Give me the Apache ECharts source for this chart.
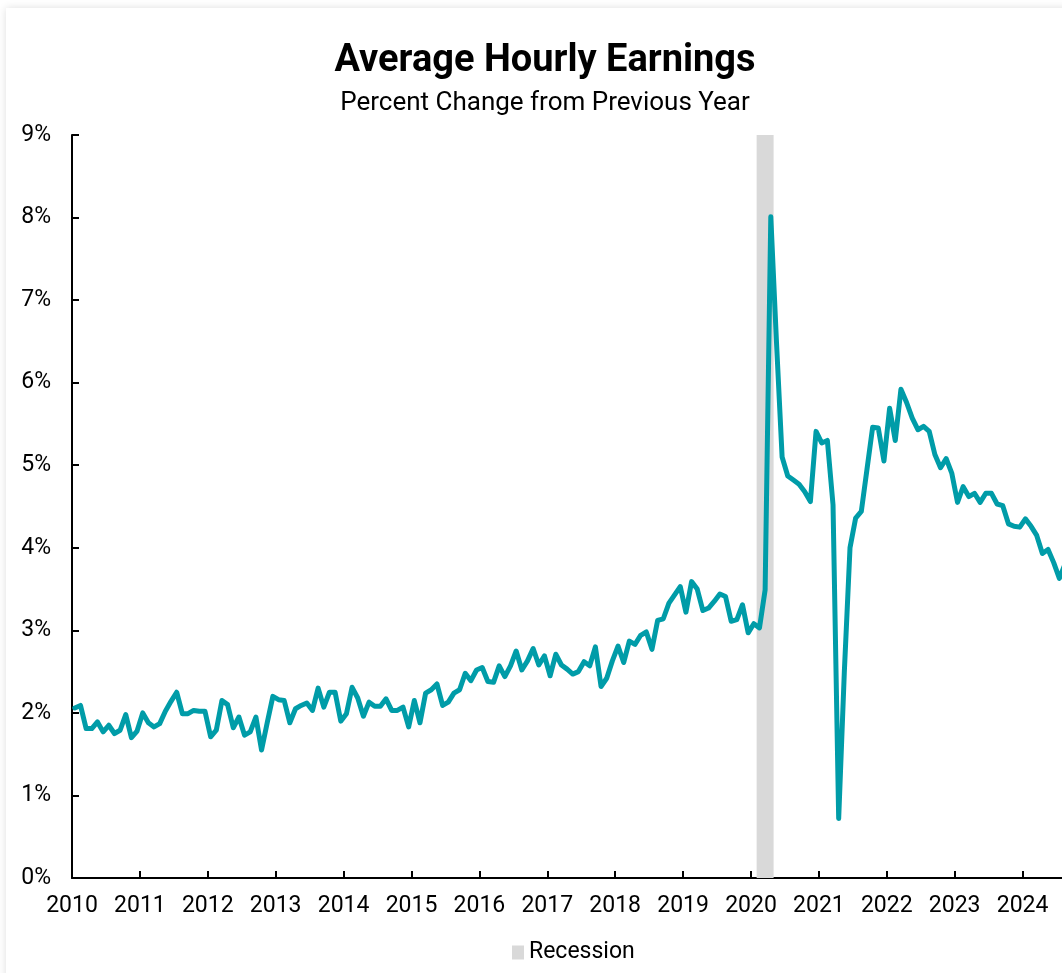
<!DOCTYPE html>
<html>
<head>
<meta charset="utf-8">
<script src="https://cdn.jsdelivr.net/npm/echarts@6/dist/echarts.min.js"></script>
<style>
html, body { margin: 0; padding: 0; background: #fff; overflow: hidden; width: 1062px; height: 973px; }
#chart { position: absolute; left: 6px; top: 8px; width: 1078px; height: 975px; background: #fff; box-shadow: 0 0 8px rgba(0,0,0,0.13); }
</style>
</head>
<body>
<div id="chart"></div>
<script>
var myChart = echarts.init(document.getElementById('chart'));

// monthly series, first value is Jan 2010
var firstYear = 2010;
var yearTicks = [2010, 2011, 2012, 2013, 2014, 2015, 2016, 2017, 2018, 2019, 2020, 2021, 2022, 2023, 2024];
var pctChange = [
    2.06, 2.09, 1.81, 1.81, 1.89, 1.77, 1.85, 1.75, 1.79, 1.98, 1.70, 1.78, // 2010
    2.00, 1.88, 1.83, 1.87, 2.02, 2.14, 2.25, 1.99, 1.99, 2.03, 2.02, 2.02, // 2011
    1.71, 1.79, 2.15, 2.10, 1.82, 1.95, 1.73, 1.77, 1.95, 1.55, 1.88, 2.20, // 2012
    2.16, 2.15, 1.88, 2.05, 2.09, 2.12, 2.03, 2.30, 2.07, 2.25, 2.25, 1.90, // 2013
    1.99, 2.31, 2.18, 1.96, 2.13, 2.08, 2.08, 2.17, 2.03, 2.03, 2.07, 1.83, // 2014
    2.15, 1.88, 2.24, 2.28, 2.35, 2.09, 2.13, 2.24, 2.28, 2.48, 2.39, 2.52, // 2015
    2.55, 2.38, 2.37, 2.57, 2.44, 2.57, 2.75, 2.52, 2.63, 2.78, 2.58, 2.69, // 2016
    2.45, 2.71, 2.58, 2.53, 2.47, 2.50, 2.62, 2.57, 2.80, 2.32, 2.42, 2.63, // 2017
    2.81, 2.61, 2.87, 2.83, 2.94, 2.98, 2.77, 3.12, 3.14, 3.33, 3.43, 3.53, // 2018
    3.22, 3.59, 3.50, 3.24, 3.27, 3.35, 3.44, 3.41, 3.11, 3.13, 3.31, 2.97, // 2019
    3.08, 3.03, 3.49, 8.01, 6.50, 5.10, 4.87, 4.82, 4.77, 4.68, 4.56, 5.41, // 2020
    5.27, 5.30, 4.52, 0.72, 2.50, 4.00, 4.36, 4.44, 4.95, 5.46, 5.45, 5.05, // 2021
    5.69, 5.30, 5.92, 5.76, 5.57, 5.43, 5.47, 5.41, 5.13, 4.97, 5.08, 4.90, // 2022
    4.55, 4.74, 4.62, 4.66, 4.55, 4.66, 4.66, 4.53, 4.51, 4.29, 4.26, 4.25, // 2023
    4.35, 4.26, 4.15, 3.93, 3.98, 3.82, 3.63, 3.80                          // 2024
];
var recession = ['2020-02', '2020-04'];
var yMin = 0, yMax = 9, yStep = 1;

var font = 'Roboto';

function monthStart(s) {
    var p = s.split('-');
    return Number(p[0]) + (Number(p[1]) - 1) / 12;
}

var lineData = [];
for (var i = 0; i < pctChange.length; i++) {
    lineData.push([firstYear + (i + 0.5) / 12, pctChange[i]]);
}

var option = {
    animation: false,
    title: [{
        text: 'Average Hourly Earnings',
        left: 'center',
        top: 29,
        textStyle: { fontFamily: font, fontSize: 38, fontWeight: 'bold', color: '#000' }
    }, {
        text: 'Percent Change from Previous Year',
        left: 'center',
        top: 77,
        textStyle: { fontFamily: font, fontSize: 26, fontWeight: 'normal', color: '#000' }
    }],
    legend: {
        data: [{ name: 'Recession', icon: 'rect' }],
        left: 501,
        top: 928,
        itemWidth: 12,
        itemHeight: 14,
        itemGap: 6,
        textStyle: { fontFamily: font, fontSize: 23, color: '#000' }
    },
    grid: {
        left: 66,
        right: 10.5,
        top: 127,
        bottom: 105
    },
    xAxis: {
        type: 'value',
        min: 2010,
        max: 2024.75,
        interval: 1,
        splitLine: { show: false },
        axisLine: { lineStyle: { color: '#000', width: 2 } },
        axisTick: { inside: true, length: 7, lineStyle: { color: '#000', width: 2 } },
        axisLabel: {
            fontFamily: font, fontSize: 23, color: '#000', margin: 17,
            showMaxLabel: false,
            formatter: function (v) { return yearTicks.indexOf(v) >= 0 ? String(v) : ''; }
        }
    },
    yAxis: {
        type: 'value',
        min: yMin,
        max: yMax,
        interval: yStep,
        splitLine: { show: false },
        axisLine: { show: true, lineStyle: { color: '#000', width: 2 } },
        axisTick: { show: true, inside: true, length: 7, lineStyle: { color: '#000', width: 2 } },
        axisLabel: { fontFamily: font, fontSize: 23, color: '#000', margin: 21, formatter: '{value}%' }
    },
    series: [{
        name: 'Recession',
        type: 'line',
        data: [],
        itemStyle: { color: '#d9d9d9' },
        lineStyle: { color: '#d9d9d9' },
        markArea: {
            silent: true,
            itemStyle: { color: '#d9d9d9' },
            data: [[{ xAxis: monthStart(recession[0]) }, { xAxis: monthStart(recession[1]) + 1 / 12 }]]
        }
    }, {
        name: 'Average Hourly Earnings',
        type: 'line',
        data: lineData,
        showSymbol: false,
        z: 3,
        lineStyle: { color: '#009ca8', width: 5, join: 'round', cap: 'round' },
        itemStyle: { color: '#009ca8' }
    }]
};
myChart.setOption(option);
</script>
</body>
</html>
